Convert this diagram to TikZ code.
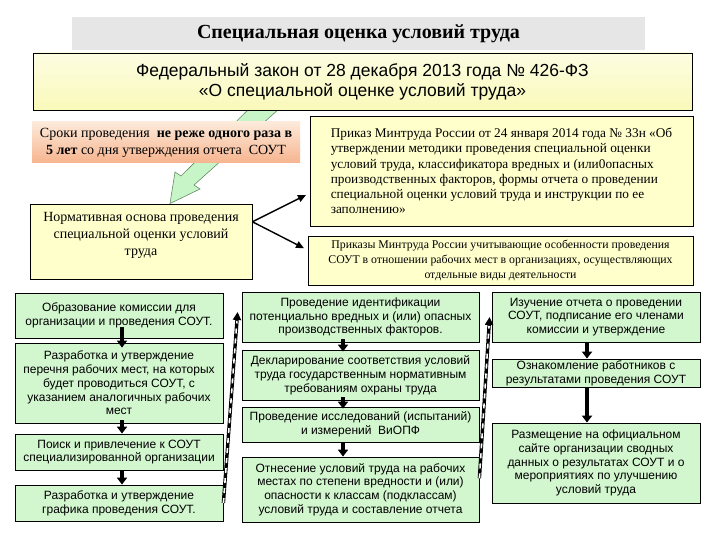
\documentclass[tikz,border=0pt]{standalone}
\usepackage{fontspec}
\setmainfont{Liberation Serif}
\setsansfont{Liberation Sans}
\usetikzlibrary{arrows.meta,calc}
\definecolor{gfill}{RGB}{210,246,206}
\definecolor{yfill}{RGB}{255,255,204}
\definecolor{tgray}{RGB}{230,230,230}
\definecolor{arrgreen}{RGB}{200,245,200}
\definecolor{arredge}{RGB}{100,140,100}
\definecolor{orTop}{RGB}{253,234,218}
\definecolor{orBot}{RGB}{246,180,142}
\definecolor{fedTop}{RGB}{253,253,226}
\definecolor{fedBot}{RGB}{249,249,186}
\begin{document}
\begin{tikzpicture}[x=1pt,y=-1pt,
  box/.style={draw=black,line width=0.8pt,inner sep=0pt,align=center},
  greenbox/.style={box,fill=gfill,font=\sffamily\fontsize{12}{13.8}\selectfont},
  yellowbox/.style={box,fill=yfill},
  downarr/.style={line width=3.5pt,-{Triangle[width=10pt,length=7pt]}},
  thinarr/.style={line width=1.4pt,-{Triangle[width=7pt,length=8pt]},shorten >=4pt},
  dasharr/.style={line width=3.4pt,-{Triangle[width=8pt,length=8pt]},
    postaction={draw,white,line width=1.6pt,dash pattern=on 5pt off 5pt,shorten >=9pt,-}}
]
\fill[white] (0,0) rectangle (720,540);
\useasboundingbox (0,0) rectangle (720,540);

% title
\node[fill=tgray,inner sep=0pt,minimum width=573pt,minimum height=33pt,
  font=\bfseries\fontsize{20}{22}\selectfont] (title) at (358.5,33.5)
  {Специальная оценка условий труда};

% big green arrow (behind boxes)
\filldraw[fill=arrgreen,draw=arredge,line width=0.6pt]
  (258,100) -- (289,100) -- (194,185) -- (200,189) -- (170,203.5)
  -- (175,172) -- (181,176) -- cycle;

% federal law
\node[box,top color=fedTop,bottom color=fedBot,minimum width=659pt,minimum height=57pt,
  font=\sffamily\fontsize{17.5}{20}\selectfont] (fed) at (362.5,81.5)
  {Федеральный закон от 28 декабря 2013 года № 426-ФЗ\\«О специальной оценке условий труда»};

% orange
\node[inner sep=0pt,top color=orTop,bottom color=orBot,minimum width=268pt,minimum height=41pt,
  align=center,font=\fontsize{14}{17}\selectfont] (srok) at (166,142.5)
  {Сроки проведения \ \textbf{не реже одного раза в}\\\textbf{5 лет} со дня утверждения отчета \ СОУТ};

% normative box
\node[yellowbox,minimum width=222pt,minimum height=75pt] (norm) at (141,241.5) {};
\node[align=center,inner sep=0pt,font=\fontsize{14}{17}\selectfont] (normt) at (141,235)
  {Нормативная основа проведения\\специальной оценки условий\\труда};

% orders
\node[yellowbox,minimum width=383pt,minimum height=110pt,align=left,
  font=\fontsize{13.3}{15.3}\selectfont] (ord1) at (501.5,171)
  {Приказ Минтруда России от 24 января 2014 года № 33н «Об\\
   утверждении методики проведения специальной оценки\\
   условий труда, классификатора вредных и (или0опасных\\
   производственных факторов, формы отчета о проведении\\
   специальной оценки условий труда и инструкции по ее\\
   заполнению»};
\node[yellowbox,minimum width=385pt,minimum height=49pt,
  font=\fontsize{11.8}{15}\selectfont] (ord2) at (500.5,260.5)
  {Приказы Минтруда России учитывающие особенности проведения\\
   СОУТ в отношении рабочих мест в организациях, осуществляющих\\
   отдельные виды деятельности};

\draw[thinarr] ($(norm.north east)!0.24!(norm.south east)$) -- ($(ord1.north west)!0.7!(ord1.south west)$);
\draw[thinarr] ($(norm.north east)!0.24!(norm.south east)$) -- ($(ord2.north west)!0.29!(ord2.south west)$);

% left column
\node[greenbox,minimum width=208pt,minimum height=45pt] (L1) at (119,315.5)
  {Образование комиссии для\\организации и проведения СОУТ.};
\node[greenbox,minimum width=208pt,minimum height=80pt] (L2) at (119,383)
  {Разработка и утверждение\\перечня рабочих мест, на которых\\будет проводиться СОУТ, с\\указанием аналогичных рабочих\\мест};
\node[greenbox,minimum width=208pt,minimum height=36pt] (L3) at (119,452)
  {Поиск и привлечение к СОУТ\\специализированной организации};
\node[greenbox,minimum width=208pt,minimum height=36pt] (L4) at (119,503)
  {Разработка и утверждение\\графика проведения СОУТ.};

% middle column
\node[greenbox,minimum width=237pt,minimum height=50pt] (M1) at (360.5,317)
  {Проведение идентификации\\потенциально вредных и (или) опасных\\производственных факторов.};
\node[greenbox,minimum width=237pt,minimum height=50pt] (M2) at (360.5,375)
  {Декларирование соответствия условий\\труда государственным нормативным\\требованиям охраны труда};
\node[greenbox,minimum width=237pt,minimum height=35pt] (M3) at (360.5,424.5)
  {Проведение исследований (испытаний)\\и измерений \ ВиОПФ};
\node[greenbox,minimum width=237pt,minimum height=65pt] (M4) at (360.5,489.5)
  {Отнесение условий труда на рабочих\\местах по степени вредности и (или)\\опасности к классам (подклассам)\\условий труда и составление отчета};

% right column
\node[greenbox,minimum width=208pt,minimum height=50pt] (R1) at (596,317)
  {Изучение отчета о проведении\\СОУТ, подписание его членами\\комиссии и утверждение};
\node[greenbox,minimum width=208pt,minimum height=28pt] (R2) at (596,373)
  {Ознакомление работников с\\результатами проведения СОУТ};
\node[greenbox,minimum width=208pt,minimum height=80pt] (R3) at (596,463)
  {Размещение на официальном\\сайте организации сводных\\данных о результатах СОУТ и о\\мероприятиях по улучшению\\условий труда};

\coordinate (xl) at (122,0);
\coordinate (xm) at (343,0);
\coordinate (xr) at (587,0);

\draw[downarr] ($(L1.south -| xl)+(0,-11)$) -- ($(L2.north -| xl)+(0,5)$);
\draw[downarr] ($(L2.south -| xl)+(0,-3)$) -- (L3.north -| xl);
\draw[downarr] (L3.south -| xl) -- (L4.north -| xl);
\draw[downarr] ($(M1.south -| xm)+(0,-3)$) -- ($(M2.north -| xm)+(0,2)$);
\draw[downarr] ($(M2.south -| xm)+(0,-3)$) -- ($(M3.north -| xm)+(0,2)$);
\draw[downarr] (M3.south -| xm) -- (M4.north -| xm);
\draw[downarr] (R1.south -| xr) -- (R2.north -| xr);
\draw[downarr] (R2.south -| xr) -- (R3.north -| xr);

\draw[dasharr] (L4.east) -- ($(M1.west)+(-4,-5)$);
\draw[dasharr] ($(M4.north east)!0.33!(M4.south east)$) -- ($(R1.west)+(-2,0)$);
\end{tikzpicture}
\end{document}
